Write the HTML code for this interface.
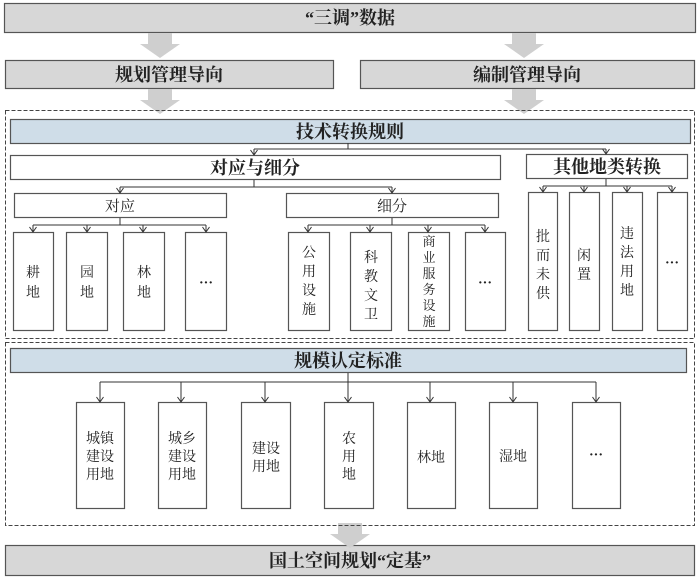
<!DOCTYPE html>
<html><head><meta charset="utf-8"><style>
html,body{margin:0;padding:0;background:#fff;}
svg{display:block;}
text{font-family:"Liberation Serif","Noto Serif CJK SC",serif;fill:#222;}
.b{font-weight:bold;font-size:18px;}
.m{font-size:15px;}
.s{font-size:14px;}
</style></head><body>
<svg width="700" height="579" viewBox="0 0 700 579" xmlns="http://www.w3.org/2000/svg">
<defs>
<marker id="a" markerWidth="8" markerHeight="8" refX="6" refY="4" orient="auto" markerUnits="userSpaceOnUse">
<path d="M1,0.5 L6,4 L1,7.5" fill="none" stroke="#333" stroke-width="1"/>
</marker>
<g id="ga"><path d="M-12,0 H12 V11 H20 L0,25 L-20,11 H-12 Z" fill="#cfcfcf"/></g>
</defs>
<g stroke="#555" stroke-width="1.2">
<rect x="4.5" y="3.5" width="691" height="29" fill="#d7d7d7"/>
<rect x="5.5" y="60.5" width="328" height="28" fill="#d7d7d7"/>
<rect x="360.5" y="60.5" width="334" height="28" fill="#d7d7d7"/>
<rect x="5.5" y="545.5" width="689" height="30" fill="#d7d7d7"/>
</g>
<use href="#ga" x="160" y="33"/><use href="#ga" x="524" y="33"/>
<use href="#ga" x="160" y="89"/><use href="#ga" x="524" y="89"/>
<use href="#ga" x="350" y="523"/>
<g fill="none" stroke="#444" stroke-width="1" stroke-dasharray="4,2">
<rect x="5.5" y="110.5" width="689" height="228"/>
<rect x="5.5" y="342.5" width="689" height="183"/>
</g>
<g stroke="#555" stroke-width="1.2" fill="#fff">
<rect x="10.5" y="119.5" width="680" height="24" fill="#cfdde8"/>
<rect x="10.5" y="348.5" width="676" height="24" fill="#cfdde8"/>
<rect x="10.5" y="155.5" width="490" height="24"/>
<rect x="526.5" y="154.5" width="161" height="24"/>
<rect x="14.5" y="193.5" width="212" height="24"/>
<rect x="286.5" y="193.5" width="212" height="24"/>
<rect x="13.5" y="232.5" width="40" height="98"/>
<rect x="66.5" y="232.5" width="41" height="98"/>
<rect x="123.5" y="232.5" width="41" height="98"/>
<rect x="185.5" y="232.5" width="41" height="98"/>
<rect x="288.5" y="232.5" width="41" height="98"/>
<rect x="350.5" y="232.5" width="41" height="98"/>
<rect x="408.5" y="232.5" width="41" height="98"/>
<rect x="465.5" y="232.5" width="40" height="98"/>
<rect x="528.5" y="192.5" width="29" height="138"/>
<rect x="569.5" y="192.5" width="30" height="138"/>
<rect x="612.5" y="192.5" width="30" height="138"/>
<rect x="657.5" y="192.5" width="30" height="138"/>
<rect x="76.5" y="402.5" width="48" height="106"/>
<rect x="158.5" y="402.5" width="48" height="106"/>
<rect x="241.5" y="402.5" width="49" height="106"/>
<rect x="324.5" y="402.5" width="49" height="106"/>
<rect x="407.5" y="402.5" width="48" height="106"/>
<rect x="489.5" y="402.5" width="48" height="106"/>
<rect x="572.5" y="402.5" width="48" height="106"/>
</g>
<g stroke="#333" stroke-width="1" fill="none">
<path d="M348,143 V149 M254,149 H606"/>
<path d="M254,149 V155" marker-end="url(#a)"/><path d="M606,149 V154" marker-end="url(#a)"/>
<path d="M254,180 V187 M120,187 H392"/>
<path d="M120,187 V193" marker-end="url(#a)"/><path d="M392,187 V193" marker-end="url(#a)"/>
<path d="M120,218 V225 M33,225 H206"/>
<path d="M33,225 V232" marker-end="url(#a)"/><path d="M87,225 V232" marker-end="url(#a)"/><path d="M143,225 V232" marker-end="url(#a)"/><path d="M206,225 V232" marker-end="url(#a)"/>
<path d="M392,218 V225 M308,225 H485"/>
<path d="M308,225 V232" marker-end="url(#a)"/><path d="M370,225 V232" marker-end="url(#a)"/><path d="M428,225 V232" marker-end="url(#a)"/><path d="M485,225 V232" marker-end="url(#a)"/>
<path d="M606,179 V186 M543,186 H672"/>
<path d="M543,186 V192" marker-end="url(#a)"/><path d="M584,186 V192" marker-end="url(#a)"/><path d="M627,186 V192" marker-end="url(#a)"/><path d="M672,186 V192" marker-end="url(#a)"/>
<path d="M348,373 V382 M100,382 H596"/>
<path d="M100,382 V402" marker-end="url(#a)"/><path d="M181,382 V402" marker-end="url(#a)"/><path d="M265,382 V402" marker-end="url(#a)"/><path d="M348,382 V402" marker-end="url(#a)"/><path d="M430,382 V402" marker-end="url(#a)"/><path d="M513,382 V402" marker-end="url(#a)"/><path d="M596,382 V402" marker-end="url(#a)"/>
</g>
<g text-anchor="middle">
<text class="b" x="350" y="24">“三调”数据</text>
<text class="b" x="169" y="81">规划管理导向</text>
<text class="b" x="527" y="81">编制管理导向</text>
<text class="b" x="350" y="138">技术转换规则</text>
<text class="b" x="255" y="174">对应与细分</text>
<text class="b" x="607" y="173">其他地类转换</text>
<text class="m" x="120" y="211">对应</text>
<text class="m" x="392" y="211">细分</text>
<text class="b" x="348" y="367">规模认定标准</text>
<text class="b" x="350" y="567">国土空间规划“定基”</text>
</g>
<g class="s" text-anchor="middle">
<text x="33" y="277">耕</text><text x="33" y="297">地</text>
<text x="87" y="277">园</text><text x="87" y="297">地</text>
<text x="144" y="277">林</text><text x="144" y="297">地</text>
<text x="206" y="287" font-weight="bold">···</text>
<text x="309" y="257">公</text><text x="309" y="276">用</text><text x="309" y="295">设</text><text x="309" y="314">施</text>
<text x="371" y="262">科</text><text x="371" y="281">教</text><text x="371" y="300">文</text><text x="371" y="319">卫</text>
<text x="485" y="287" font-weight="bold">···</text>
<text x="543" y="241">批</text><text x="543" y="260">而</text><text x="543" y="279">未</text><text x="543" y="298">供</text>
<text x="584" y="260">闲</text><text x="584" y="279">置</text>
<text x="627" y="238">违</text><text x="627" y="257">法</text><text x="627" y="276">用</text><text x="627" y="295">地</text>
<text x="672" y="267" font-weight="bold">···</text>
<text x="100" y="443">城镇</text><text x="100" y="461">建设</text><text x="100" y="479">用地</text>
<text x="182" y="443">城乡</text><text x="182" y="461">建设</text><text x="182" y="479">用地</text>
<text x="266" y="453">建设</text><text x="266" y="471">用地</text>
<text x="349" y="443">农</text><text x="349" y="461">用</text><text x="349" y="479">地</text>
<text x="431" y="462">林地</text>
<text x="513" y="461">湿地</text>
<text x="596" y="459" font-weight="bold">···</text>
</g>
<g text-anchor="middle" style="font-size:13px">
<text x="429" y="246">商</text><text x="429" y="262">业</text><text x="429" y="278">服</text><text x="429" y="294">务</text><text x="429" y="310">设</text><text x="429" y="326">施</text>
</g>
</svg>
</body></html>
